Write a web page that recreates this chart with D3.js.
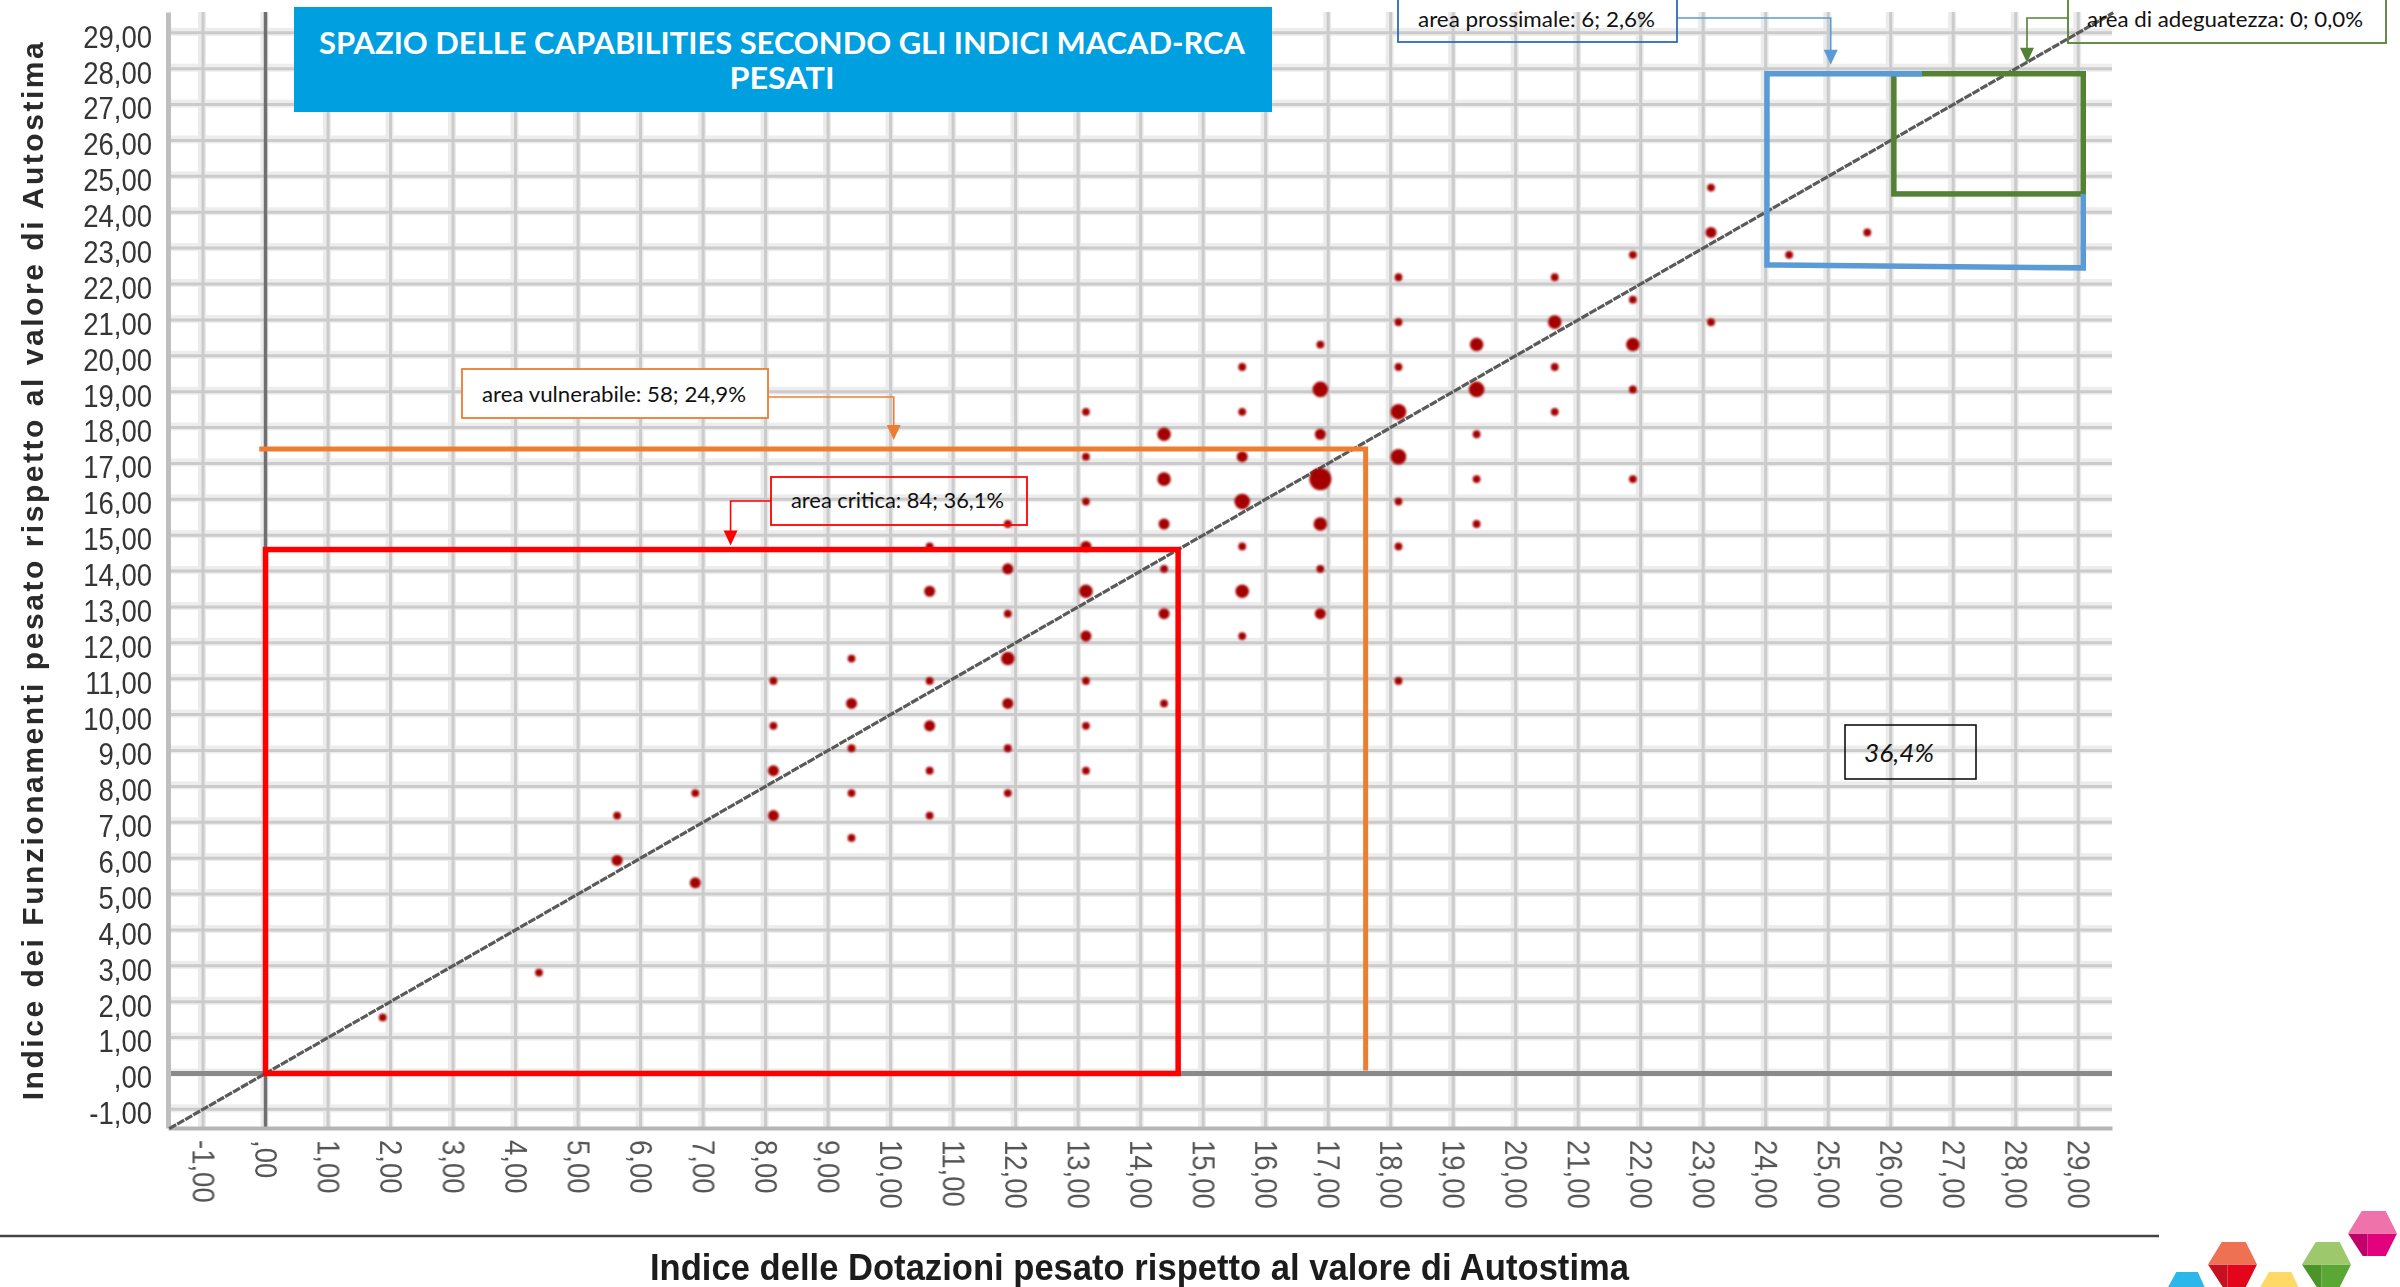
<!DOCTYPE html>
<html>
<head>
<meta charset="utf-8">
<script src="https://cdn.jsdelivr.net/npm/d3@7"></script>
<style>
  html, body { margin: 0; padding: 0; background: #ffffff; overflow: hidden; }
  svg { display: block; }
</style>
</head>
<body>
<svg id="chart" width="2400" height="1287"></svg>
<script>
// ---------------- DATA ----------------
const tickValues = [-1,0,1,2,3,4,5,6,7,8,9,10,11,12,13,14,15,16,17,18,19,20,21,22,23,24,25,26,27,28,29];
const xTickLabels = ["-1,00",",00","1,00","2,00","3,00","4,00","5,00","6,00","7,00","8,00","9,00","10,00","11,00","12,00","13,00","14,00","15,00","16,00","17,00","18,00","19,00","20,00","21,00","22,00","23,00","24,00","25,00","26,00","27,00","28,00","29,00"];
const yTickLabels = ["-1,00",",00","1,00","2,00","3,00","4,00","5,00","6,00","7,00","8,00","9,00","10,00","11,00","12,00","13,00","14,00","15,00","16,00","17,00","18,00","19,00","20,00","21,00","22,00","23,00","24,00","25,00","26,00","27,00","28,00","29,00"];

// points: Dotazioni (x), Funzionamenti (y), weight (dot size)
const pointX = [
  1.875,
  4.375,
  5.625, 5.625,
  6.875, 6.875,
  8.125, 8.125, 8.125, 8.125,
  9.375, 9.375, 9.375, 9.375, 9.375,
  10.625, 10.625, 10.625, 10.625, 10.625, 10.625,
  11.875, 11.875, 11.875, 11.875, 11.875, 11.875, 11.875,
  13.125, 13.125, 13.125, 13.125, 13.125, 13.125, 13.125, 13.125, 13.125,
  14.375, 14.375, 14.375, 14.375, 14.375, 14.375,
  15.625, 15.625, 15.625, 15.625, 15.625, 15.625, 15.625,
  16.875, 16.875, 16.875, 16.875, 16.875, 16.875, 16.875,
  18.125, 18.125, 18.125, 18.125, 18.125, 18.125, 18.125, 18.125,
  19.375, 19.375, 19.375, 19.375, 19.375,
  20.625, 20.625, 20.625, 20.625,
  21.875, 21.875, 21.875, 21.875, 21.875,
  23.125, 23.125, 23.125,
  24.375,
  25.625
];
const pointY = [
  1.5625,
  2.8125,
  7.1875, 5.9375,
  7.8125, 5.3125,
  10.9375, 9.6875, 8.4375, 7.1875,
  11.5625, 10.3125, 9.0625, 7.8125, 6.5625,
  14.6875, 13.4375, 10.9375, 9.6875, 8.4375, 7.1875,
  15.3125, 14.0625, 12.8125, 11.5625, 10.3125, 9.0625, 7.8125,
  18.4375, 17.1875, 15.9375, 14.6875, 13.4375, 12.1875, 10.9375, 9.6875, 8.4375,
  17.8125, 16.5625, 15.3125, 14.0625, 12.8125, 10.3125,
  19.6875, 18.4375, 17.1875, 15.9375, 14.6875, 13.4375, 12.1875,
  20.3125, 19.0625, 17.8125, 16.5625, 15.3125, 14.0625, 12.8125,
  22.1875, 20.9375, 19.6875, 18.4375, 17.1875, 15.9375, 14.6875, 10.9375,
  20.3125, 19.0625, 17.8125, 16.5625, 15.3125,
  22.1875, 20.9375, 19.6875, 18.4375,
  22.8125, 21.5625, 20.3125, 19.0625, 16.5625,
  24.6875, 23.4375, 20.9375,
  22.8125,
  23.4375
];
const pointWeight = [
  1,
  1,
  1, 2,
  1, 2,
  1, 1, 2, 2,
  1, 2, 1, 1, 1,
  1, 2, 1, 2, 1, 1,
  1, 2, 1, 3, 2, 1, 1,
  1, 1, 1, 2, 3, 2, 1, 1, 1,
  3, 3, 2, 1, 2, 1,
  1, 1, 2, 4, 1, 3, 1,
  1, 4, 2, 8, 3, 1, 2,
  1, 1, 1, 4, 4, 1, 1, 1,
  3, 4, 1, 1, 1,
  1, 3, 1, 1,
  1, 1, 3, 1, 1,
  1, 2, 1,
  1,
  1
];

// area outlines (data coordinates)
const areaCritica = { x0: 0, x1: 14.6, y0: 0, y1: 14.6 };
const areaVulnerabile = { xs: [-0.1, 17.6, 17.6], ys: [17.4, 17.4, 0.08] };
const areaProssimaleX = [26.5, 24.02, 24.02, 29.08, 29.08];
const areaProssimaleY = [27.86, 27.86, 22.53, 22.45, 24.51];
const areaAdeguatezza = { x0: 26.05, x1: 29.08, y0: 24.51, y1: 27.86 };
const diagonalEnds = [-1.54, 29.56];

// annotation labels
const labelTexts = ["area vulnerabile: 58; 24,9%", "area critica: 84; 36,1%", "area prossimale: 6; 2,6%", "area di adeguatezza: 0; 0,0%"];
const labelArrowX = [10.05, 7.44, 25.04, 28.18];
const percentText = "36,4%";

const titleLines = ["SPAZIO DELLE CAPABILITIES SECONDO GLI INDICI MACAD-RCA", "PESATI"];
const xTitle = "Indice delle Dotazioni pesato rispetto al valore di Autostima";
const yTitle = "Indice dei Funzionamenti pesato rispetto al valore di Autostima";

// ---------------- SETUP ----------------
const svg = d3.select("#chart");
const x = d3.scaleLinear().domain([-1.56, 29.54]).range([168, 2112]);
const y = d3.scaleLinear().domain([-1.52, 29.58]).range([1128, 12]);
const r = d3.scaleSqrt().domain([0, 1]).range([0, 3.9]);

const defs = svg.append("defs");
defs.append("filter").attr("id", "soft").attr("x", "-50%").attr("y", "-50%").attr("width", "200%").attr("height", "200%")
  .append("feGaussianBlur").attr("stdDeviation", 0.8);
defs.append("filter").attr("id", "softText")
  .append("feGaussianBlur").attr("stdDeviation", 0.35);

function fitText(sel, target, mode) {
  sel.each(function () {
    const nat = this.getComputedTextLength();
    const n = this.textContent.length;
    if (mode === "spacing" && nat < target && n > 1) {
      d3.select(this).attr("letter-spacing", (target - nat) / (n - 1));
    } else {
      d3.select(this).attr("textLength", target).attr("lengthAdjust", "spacingAndGlyphs");
    }
  });
}

// ---------------- GRID ----------------
const grid = svg.append("g");
grid.selectAll("rect.hb").data(tickValues).join("rect").attr("class", "hb")
  .attr("x", x.range()[0]).attr("width", x.range()[1] - x.range()[0])
  .attr("y", d => y(d) - 5).attr("height", 8).attr("fill", "#ededed");
grid.selectAll("rect.vb").data(tickValues).join("rect").attr("class", "vb")
  .attr("y", y.range()[1]).attr("height", y.range()[0] - y.range()[1])
  .attr("x", d => x(d) - 5).attr("width", 8).attr("fill", "#ebebeb");
grid.selectAll("line.h").data(tickValues).join("line").attr("class", "h")
  .attr("x1", x.range()[0]).attr("x2", x.range()[1])
  .attr("y1", d => y(d)).attr("y2", d => y(d))
  .attr("stroke", "#cbcbcb").attr("stroke-width", 3);
grid.selectAll("line.v").data(tickValues).join("line").attr("class", "v")
  .attr("y1", y.range()[1]).attr("y2", y.range()[0])
  .attr("x1", d => x(d)).attr("x2", d => x(d))
  .attr("stroke", "#cbcbcb").attr("stroke-width", 3);

// zero lines
svg.append("line").attr("x1", x.range()[0]).attr("x2", x.range()[1]).attr("y1", y(0)).attr("y2", y(0))
  .attr("stroke", "#8a8a8a").attr("stroke-width", 5);
svg.append("line").attr("x1", x(0)).attr("x2", x(0)).attr("y1", y.range()[1]).attr("y2", y.range()[0])
  .attr("stroke", "#6f6f6f").attr("stroke-width", 3.5);

// ---------------- AXES ----------------
const yAxis = svg.append("g").attr("transform", `translate(${x.range()[0]},0)`)
  .call(d3.axisLeft(y).tickValues(tickValues).tickFormat((d, i) => yTickLabels[i]).tickSize(0).tickSizeOuter(0).tickPadding(16));
yAxis.select(".domain").attr("stroke", "#bfbfbf").attr("stroke-width", 5);
yAxis.selectAll(".tick text")
  .attr("font-family", "'Liberation Sans', Arial, sans-serif").attr("font-size", 32)
  .attr("fill", "#363636").attr("dy", "0.45em").attr("filter", "url(#softText)")
  .each(function () { const nat = this.getComputedTextLength(); d3.select(this).attr("textLength", nat * 0.86).attr("lengthAdjust", "spacingAndGlyphs"); });

const xAxis = svg.append("g").attr("transform", `translate(0,${y.range()[0]})`)
  .call(d3.axisBottom(x).tickValues(tickValues).tickFormat((d, i) => xTickLabels[i]).tickSize(0).tickSizeOuter(0));
xAxis.select(".domain").attr("stroke", "#b5b5b5").attr("stroke-width", 4);
xAxis.selectAll(".tick text")
  .attr("font-family", "'Liberation Sans', Arial, sans-serif").attr("font-size", 32)
  .attr("fill", "#555555").attr("transform", "rotate(90)")
  .attr("x", 12).attr("y", 0).attr("dy", "0.35em").style("text-anchor", "start").attr("filter", "url(#softText)")
  .each(function () { const nat = this.getComputedTextLength(); d3.select(this).attr("textLength", nat * 0.86).attr("lengthAdjust", "spacingAndGlyphs"); });

// ---------------- DIAGONAL ----------------
svg.append("line")
  .attr("x1", x(diagonalEnds[0])).attr("y1", y(diagonalEnds[0]))
  .attr("x2", x(diagonalEnds[1])).attr("y2", y(diagonalEnds[1]))
  .attr("stroke", "#5a5a5a").attr("stroke-width", 3.2).attr("stroke-dasharray", "8,1.2");

// ---------------- POINTS ----------------
const points = pointX.map((v, i) => ({ x: v, y: pointY[i], w: pointWeight[i] }));
svg.append("g").attr("filter", "url(#soft)")
  .selectAll("circle").data(points).join("circle")
  .attr("cx", d => x(d.x)).attr("cy", d => y(d.y)).attr("r", d => r(d.w))
  .attr("fill", "#a40000");

// ---------------- AREAS ----------------
svg.append("rect")
  .attr("x", x(areaCritica.x0)).attr("y", y(areaCritica.y1))
  .attr("width", x(areaCritica.x1) - x(areaCritica.x0)).attr("height", y(areaCritica.y0) - y(areaCritica.y1))
  .attr("fill", "none").attr("stroke", "#ff0000").attr("stroke-width", 5.5);

const lineGen = d3.line().x(d => x(d[0])).y(d => y(d[1]));
svg.append("path")
  .attr("d", lineGen(areaVulnerabile.xs.map((v, i) => [v, areaVulnerabile.ys[i]])))
  .attr("fill", "none").attr("stroke", "#ed7d31").attr("stroke-width", 5);

svg.append("rect")
  .attr("x", x(areaAdeguatezza.x0)).attr("y", y(areaAdeguatezza.y1))
  .attr("width", x(areaAdeguatezza.x1) - x(areaAdeguatezza.x0)).attr("height", y(areaAdeguatezza.y0) - y(areaAdeguatezza.y1))
  .attr("fill", "none").attr("stroke", "#548235").attr("stroke-width", 5.5);

svg.append("path")
  .attr("d", lineGen(areaProssimaleX.map((v, i) => [v, areaProssimaleY[i]])))
  .attr("fill", "none").attr("stroke", "#5b9bd5").attr("stroke-width", 5.5).attr("stroke-linejoin", "miter");

// ---------------- TITLE ----------------
svg.append("rect").attr("x", 294).attr("y", 7).attr("width", 978).attr("height", 105).attr("fill", "#009fdf");
svg.append("text").attr("x", 782).attr("y", 53.5).attr("text-anchor", "middle")
  .attr("font-family", "Lato, 'Open Sans', sans-serif").attr("font-weight", 700).attr("font-size", 30)
  .attr("fill", "#ffffff").text(titleLines[0]).call(fitText, 926, "glyphs");
svg.append("text").attr("x", 782).attr("y", 89).attr("text-anchor", "middle")
  .attr("font-family", "Lato, 'Open Sans', sans-serif").attr("font-weight", 700).attr("font-size", 30)
  .attr("fill", "#ffffff").text(titleLines[1]).call(fitText, 105, "glyphs");

// ---------------- ANNOTATIONS ----------------
const annFont = "Lato, 'Open Sans', sans-serif";
const boxes = [
  { bx: 462, by: 369, bw: 306, bh: 49, stroke: "#ed7d31", fill: "#ffffff", tx: 482, ty: 402, tw: 264,
    lead: "#ed7d31", hy: 397, hx0: 768, tipY: y(areaVulnerabile.ys[0]) - 9 },
  { bx: 771, by: 477, bw: 256, bh: 48, stroke: "#ff0000", fill: "none", tx: 791, ty: 508, tw: 213,
    lead: "#ff0000", hy: 501, hx0: 771, tipY: y(areaCritica.y1) - 4 },
  { bx: 1398, by: -3, bw: 279, bh: 45, stroke: "#2e6db4", fill: "none", tx: 1418, ty: 27, tw: 237,
    lead: "#5b9bd5", hy: 18, hx0: 1677, tipY: y(areaProssimaleY[0]) - 9 },
  { bx: 2068, by: -3, bw: 318, bh: 46, stroke: "#548235", fill: "none", tx: 2087, ty: 27, tw: 276,
    lead: "#548235", hy: 18, hx0: 2068, tipY: y(areaAdeguatezza.y1) - 11 }
];
boxes.forEach((b, i) => {
  const ax = x(labelArrowX[i]);
  svg.append("path")
    .attr("d", `M${b.hx0},${b.hy}H${ax}V${b.tipY - 14}`)
    .attr("fill", "none").attr("stroke", b.lead).attr("stroke-width", 1.6);
  svg.append("path")
    .attr("d", `M${ax - 7},${b.tipY - 15}L${ax + 7},${b.tipY - 15}L${ax},${b.tipY}Z`)
    .attr("fill", b.lead);
  svg.append("rect").attr("x", b.bx).attr("y", b.by).attr("width", b.bw).attr("height", b.bh)
    .attr("fill", b.fill).attr("stroke", b.stroke).attr("stroke-width", 1.8);
  svg.append("text").attr("x", b.tx).attr("y", b.ty)
    .attr("font-family", annFont).attr("font-size", 21).attr("fill", "#111")
    .text(labelTexts[i]).call(fitText, b.tw, "glyphs");
});

svg.append("rect").attr("x", 1845).attr("y", 725).attr("width", 131).attr("height", 54)
  .attr("fill", "none").attr("stroke", "#111").attr("stroke-width", 1.6);
svg.append("text").attr("x", 1864).attr("y", 762)
  .attr("font-family", annFont).attr("font-style", "italic").attr("font-size", 26).attr("fill", "#111")
  .text(percentText).call(fitText, 70, "glyphs");

// ---------------- AXIS TITLES ----------------
svg.append("text")
  .attr("transform", "translate(43,570) rotate(-90)")
  .attr("text-anchor", "middle")
  .attr("font-family", "'Liberation Sans', Arial, sans-serif").attr("font-weight", 700).attr("font-size", 30)
  .attr("fill", "#2b2b2b").attr("filter", "url(#softText)")
  .text(yTitle).call(fitText, 1058, "spacing");

svg.append("line").attr("x1", 0).attr("x2", 2159).attr("y1", 1236).attr("y2", 1236)
  .attr("stroke", "#444").attr("stroke-width", 2.5);

svg.append("text")
  .attr("x", 1139.5).attr("y", 1280).attr("text-anchor", "middle")
  .attr("font-family", "'Liberation Sans', Arial, sans-serif").attr("font-weight", 700).attr("font-size", 36)
  .attr("fill", "#1c1c1c").attr("filter", "url(#softText)")
  .text(xTitle).call(fitText, 979, "glyphs");

// ---------------- LOGO ----------------
const logoCubes = [
  { x: 2164, y: 1272, w: 44, h: 45, top: "#2bb7ea", left: "#0085c7", right: "#009fdf" },
  { x: 2208, y: 1242, w: 49, h: 45, top: "#ef7153", left: "#c5101f", right: "#e3061b" },
  { x: 2256, y: 1272, w: 46, h: 45, top: "#ffd966", left: "#dba400", right: "#f2b800" },
  { x: 2302, y: 1242, w: 49, h: 45, top: "#9dc86b", left: "#4b9428", right: "#5aa833" },
  { x: 2348, y: 1211, w: 49, h: 45, top: "#ef72aa", left: "#c2006a", right: "#e2007d" }
];
const faceTop = [[0.28, 0], [0.77, 0], [1, 0.5], [0, 0.5]];
const faceLeft = [[0, 0.5], [0.4, 0.5], [0.4, 1], [0.3, 1]];
const faceRight = [[0.4, 0.5], [1, 0.5], [0.77, 1], [0.4, 1]];
const logo = svg.append("g");
logoCubes.forEach(c => {
  const pts = f => f.map(p => [c.x + p[0] * c.w, c.y + p[1] * c.h].join(",")).join(" ");
  logo.append("polygon").attr("points", pts(faceLeft)).attr("fill", c.left);
  logo.append("polygon").attr("points", pts(faceRight)).attr("fill", c.right);
  logo.append("polygon").attr("points", pts(faceTop)).attr("fill", c.top);
});
</script>
</body>
</html>
